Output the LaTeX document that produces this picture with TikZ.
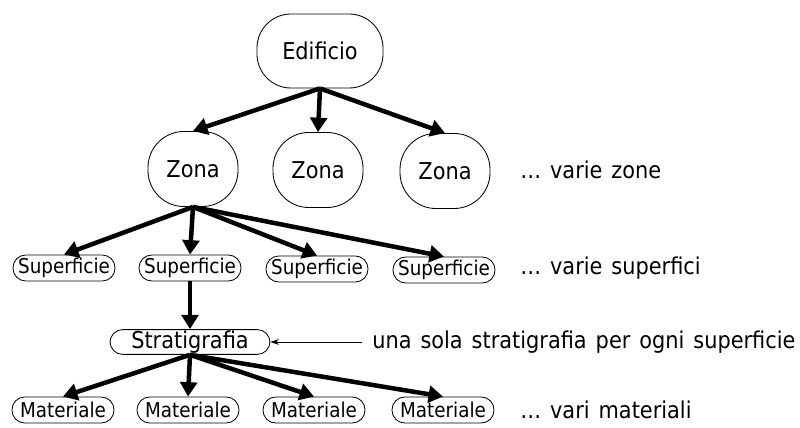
\documentclass[tikz,border=0pt]{standalone}
\usepackage{fontspec}
\setmainfont{DejaVu Sans}[FakeStretch=0.9,WordSpace=1.35]
\usetikzlibrary{arrows.meta}
\begin{document}
\begin{tikzpicture}[x=0.025cm,y=-0.025cm,
	font=\fontsize{16.5}{19}\selectfont,
	box/.style={draw,line width=.6pt,inner sep=0pt},
	bigbox/.style={box,minimum width=3.15cm,minimum height=1.85cm,rounded corners=.85cm},
	zonebox/.style={box,minimum width=2.25cm,minimum height=1.875cm,rounded corners=.9cm},
	smallbox/.style={box,minimum width=2.55cm,minimum height=.65cm,rounded corners=.32cm,
		font=\fontsize{14.5}{17}\selectfont},
	branch/.style={line width=3.2pt,-{Triangle[length=.36cm,width=.42cm]}},
	note/.style={anchor=west,inner sep=0pt}]
	\useasboundingbox (0,0) rectangle (800,427);
	
	% livelli
	\node[bigbox] (edificio) at (320,51) {Edificio};
	
	\node[zonebox] (zona1) at (193,169) {Zona};
	\node[zonebox] (zona2) at (318,170) {Zona};
	\node[zonebox] (zona3) at (445,171) {Zona};
	\node[note] (lzone) at (520,170) {\dots\ varie zone};
	
	\node[smallbox] (sup1) at (64,268) {Superficie};
	\node[smallbox] (sup2) at (190,268) {Superficie};
	\node[smallbox] (sup3) at (317,269) {Superficie};
	\node[smallbox] (sup4) at (444,270) {Superficie};
	\node[note] (lsup) at (520,268) {\dots\ varie superfici};
	
	\node[smallbox,minimum width=4cm,minimum height=.62cm,font=\fontsize{16.5}{19}\selectfont] (strat) at (190,342) {Stratigrafia};
	\node[note] (lstrat) at (372,342) {una sola stratigrafia per ogni superficie};
	
	\node[smallbox] (mat1) at (63,410) {Materiale};
	\node[smallbox] (mat2) at (188,410) {Materiale};
	\node[smallbox] (mat3) at (314,410) {Materiale};
	\node[smallbox] (mat4) at (443,410) {Materiale};
	\node[note] (lmat) at (520,410) {\dots\ vari materiali};
	
	% frecce
	\foreach \z in {1,2,3}
		\draw[branch] (edificio.south) -- (zona\z.north);
	\foreach \s in {1,...,4}
		\draw[branch] (zona1.south) -- (sup\s.north);
	\draw[branch] (sup2.south) -- (strat.north);
	\foreach \m in {1,...,4}
		\draw[branch] (strat.south) -- (mat\m.north);
	\draw[line width=.6pt,-{Stealth[length=6pt,width=4pt]}] ([xshift=-7pt]lstrat.west) -- (strat.east);
\end{tikzpicture}
\end{document}
